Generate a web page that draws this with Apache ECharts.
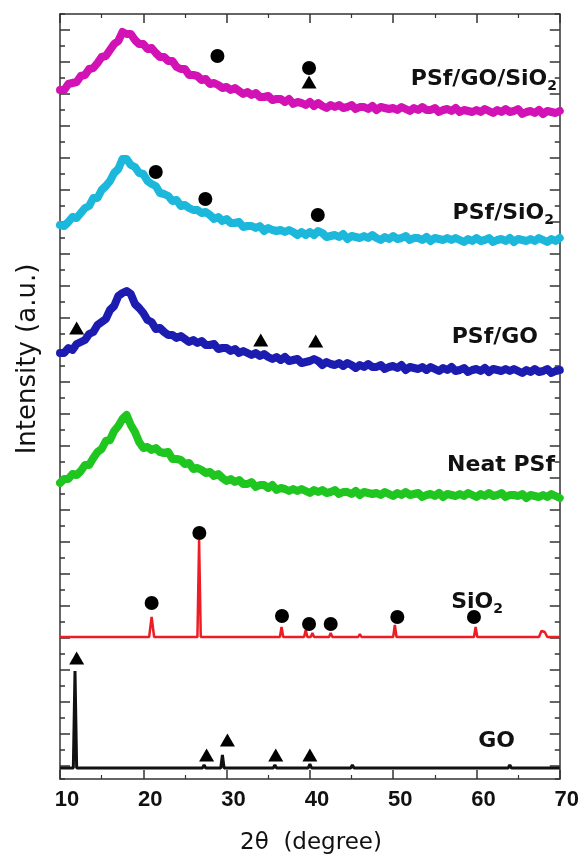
<!DOCTYPE html>
<html>
<head>
<meta charset="utf-8">
<script src="https://cdn.jsdelivr.net/npm/echarts@6.0.0/dist/echarts.min.js"></script>
<style>
  html, body { margin: 0; padding: 0; background: #fff; }
  #chart { width: 582px; height: 856px; }
</style>
</head>
<body>
<div id="chart"></div>
<script>
// 2theta grid shared by the four PSf membrane patterns
const angles = [
  10, 10.5, 11, 11.5, 12, 12.5, 13, 13.5, 14, 14.5,
  15, 15.5, 16, 16.5, 17, 17.5, 18, 18.5, 19, 19.5,
  20, 20.5, 21, 21.5, 22, 22.5, 23, 23.5, 24, 24.5,
  25, 25.5, 26, 26.5, 27, 27.5, 28, 28.5, 29, 29.5,
  30, 30.5, 31, 31.5, 32, 32.5, 33, 33.5, 34, 34.5,
  35, 35.5, 36, 36.5, 37, 37.5, 38, 38.5, 39, 39.5,
  40, 40.5, 41, 41.5, 42, 42.5, 43, 43.5, 44, 44.5,
  45, 45.5, 46, 46.5, 47, 47.5, 48, 48.5, 49, 49.5,
  50, 50.5, 51, 51.5, 52, 52.5, 53, 53.5, 54, 54.5,
  55, 55.5, 56, 56.5, 57, 57.5, 58, 58.5, 59, 59.5,
  60, 60.5, 61, 61.5, 62, 62.5, 63, 63.5, 64, 64.5,
  65, 65.5, 66, 66.5, 67, 67.5, 68, 68.5, 69, 69.5,
  70
];

// intensities above each pattern's own baseline (a.u.)
const psfGoSio2 = [
  22, 22, 28, 29, 30, 36, 37, 43, 44, 49,
  55, 56, 62, 68, 71, 80, 78, 78, 72, 68,
  68, 63, 64, 59, 55, 55, 51, 51, 45, 43,
  43, 37, 37, 36, 32, 33, 28, 29, 27, 24,
  25, 22, 24, 21, 18, 20, 17, 19, 15, 15,
  16, 12, 13, 13, 10, 13, 8, 10, 9, 7,
  10, 6, 9, 6, 4, 7, 5, 7, 4, 5,
  7, 3, 5, 5, 3, 6, 2, 5, 4, 3,
  4, 2, 5, 3, 1, 4, 2, 5, 2, 2,
  4, 0, 2, 3, 1, 4, 0, 2, 1, 0,
  2, 0, 3, 1, -1, 2, 0, 3, 0, 1,
  3, -2, 0, 1, -1, 2, -2, 1, 0, -1,
  1
];
const psfSio2 = [
  15, 14, 18, 23, 22, 27, 32, 34, 42, 42,
  50, 54, 59, 67, 71, 81, 81, 75, 73, 67,
  66, 59, 56, 54, 47, 46, 44, 39, 40, 34,
  35, 32, 30, 30, 27, 28, 25, 21, 23, 19,
  21, 17, 17, 18, 13, 14, 14, 12, 14, 9,
  12, 10, 9, 10, 8, 10, 8, 5, 8, 5,
  8, 5, 9, 7, 3, 4, 5, 3, 6, 1,
  4, 3, 2, 4, 2, 5, 2, 0, 3, 1,
  4, 1, 2, 4, 0, 2, 2, 0, 3, -1,
  2, 1, 0, 2, 0, 2, 0, -2, 1, -1,
  2, -1, 0, 2, -2, 0, 1, -1, 2, -2,
  1, 0, -1, 1, -1, 2, 0, -2, 1, -1,
  2
];
const psfGo = [
  18, 18, 23, 21, 27, 29, 31, 37, 39, 46,
  49, 52, 61, 65, 75, 78, 80, 77, 67, 63,
  58, 51, 49, 42, 43, 39, 36, 36, 33, 35,
  32, 29, 31, 28, 30, 26, 26, 27, 22, 23,
  23, 20, 22, 18, 20, 18, 16, 18, 15, 17,
  14, 12, 14, 11, 14, 10, 11, 12, 8, 9,
  10, 12, 10, 6, 9, 7, 6, 8, 5, 8,
  6, 3, 6, 4, 7, 4, 4, 6, 2, 4,
  5, 3, 6, 1, 4, 3, 2, 4, 1, 4,
  2, 0, 3, 1, 4, 0, 1, 3, -1, 1,
  2, 0, 3, -1, 2, 1, 0, 2, 0, 2,
  0, -2, 1, -1, 2, -1, 0, 2, -2, 0,
  1
];
const neatPsf = [
  13, 17, 17, 22, 21, 25, 31, 31, 38, 44,
  47, 55, 56, 65, 70, 77, 81, 71, 64, 54,
  48, 49, 46, 48, 44, 43, 44, 37, 37, 36,
  32, 33, 27, 28, 26, 23, 24, 20, 22, 18,
  15, 17, 14, 16, 12, 12, 14, 9, 11, 11,
  8, 11, 6, 8, 7, 5, 7, 5, 7, 5,
  3, 6, 4, 6, 3, 4, 6, 2, 4, 4,
  2, 5, 1, 4, 3, 2, 3, 1, 4, 2,
  0, 3, 1, 4, 1, 2, 3, -1, 1, 2,
  0, 3, -1, 2, 1, 0, 2, 0, 3, 1,
  -1, 2, 0, 3, 0, 1, 3, -1, 1, 1,
  0, 2, -2, 1, 0, -1, 1, -1, 2, 0,
  -2
];

// sharp reflections of the pure powders
const sio2Angles = [10, 20.7, 21.0, 21.3, 26.5, 26.7, 26.9, 36.4, 36.6, 36.8, 39.3, 39.5, 39.7, 40.1, 40.3, 40.5,
  42.3, 42.5, 42.7, 45.8, 46.0, 46.2, 50.0, 50.2, 50.4, 54.8, 55.0, 55.2, 59.7, 59.9, 60.1,
  63.9, 64.1, 64.3, 67.5, 67.8, 68.0, 68.2, 68.5, 70];
const sio2Counts = [0, 0, 20, 0, 0, 97, 0, 0, 10, 0, 0, 7, 0, 0, 4, 0,
  0, 4, 0, 0, 3, 0, 0, 12, 0, 0, 2, 0, 0, 10, 0,
  0, 2, 0, 0, 6, 4, 5, 0, 0];
const goAngles = [10, 11.6, 11.8, 12.0, 27.1, 27.3, 27.5, 29.3, 29.5, 29.7, 35.6, 35.8, 36.0,
  39.8, 40.0, 40.2, 44.9, 45.1, 45.3, 63.8, 64.0, 64.2, 68.6, 68.8, 69.0, 70];
const goCounts = [0, 0, 97, 0, 0, 3, 0, 0, 13, 0, 0, 3, 0,
  0, 4, 0, 0, 3, 0, 0, 3, 0, 0, 2, 0, 0];

// vertical offsets of the stacked patterns, top to bottom
const offsets = [667, 539, 408, 283, 142, 11];

// phase markers: [2theta, stacked height]
const sio2Marks = [[28.9, 723], [39.9, 711], [21.5, 607], [27.45, 580], [40.95, 564],
  [21.0, 176], [26.73, 246], [36.65, 163], [39.9, 155], [42.5, 155], [50.5, 162], [59.7, 162]];
const goMarks = [[39.9, 697], [12.0, 451], [34.1, 439], [40.7, 438],
  [12.0, 121], [27.6, 24], [30.1, 39], [35.9, 24], [40.0, 24]];

const TEXT = '#111';
const AXIS = '#333';
const LABEL_FONT = 'DejaVu Sans';

const chart = echarts.init(document.getElementById('chart'));

const broad = [
  { values: psfGoSio2, offset: offsets[0], color: '#d312b6' },
  { values: psfSio2, offset: offsets[1], color: '#1bb8dc' },
  { values: psfGo, offset: offsets[2], color: '#1c1cb0' },
  { values: neatPsf, offset: offsets[3], color: '#20c620' },
];

const series = broad.map((t, k) => ({
  type: 'line',
  data: angles.map((a, i) => [a, t.offset + t.values[i]]),
  showSymbol: false,
  lineStyle: { color: t.color, width: 8, join: 'round', cap: 'round' },
  z: 10 - k,
  silent: true,
}));

series.push({
  type: 'line',
  data: sio2Angles.map((a, i) => [a, offsets[4] + sio2Counts[i]]),
  showSymbol: false,
  lineStyle: { color: '#ee1c24', width: 2.5 },
  silent: true,
});
series.push({
  type: 'line',
  data: goAngles.map((a, i) => [a, offsets[5] + goCounts[i]]),
  showSymbol: false,
  lineStyle: { color: '#111', width: 3 },
  silent: true,
});
series.push({
  type: 'scatter',
  data: sio2Marks,
  symbol: 'circle',
  symbolSize: 14,
  itemStyle: { color: '#000', opacity: 1 },
  z: 20,
  silent: true,
});
series.push({
  type: 'scatter',
  data: goMarks,
  symbol: 'triangle',
  symbolSize: [15, 13],
  itemStyle: { color: '#000', opacity: 1 },
  z: 20,
  silent: true,
});

function seriesLabel(main, sub, right, cy) {
  const rich = {
    m: { fontFamily: LABEL_FONT, fontWeight: 'bold', fontSize: 22, lineHeight: 26, fill: TEXT, color: TEXT },
    s: { fontFamily: LABEL_FONT, fontWeight: 'bold', fontSize: 14, lineHeight: 14, padding: [14, 0, 0, 0], fill: TEXT, color: TEXT },
  };
  return {
    type: 'text',
    x: right,
    y: cy,
    z: 50,
    style: {
      text: sub ? '{m|' + main + '}{s|' + sub + '}' : '{m|' + main + '}',
      rich: rich,
      align: 'right', textAlign: 'right',
      verticalAlign: 'middle', textVerticalAlign: 'middle',
    },
  };
}

const valueTicksX = (pos, labels) => ({
  type: 'value', min: 10, max: 70, interval: 10, position: pos,
  axisLine: { onZero: false, lineStyle: { color: AXIS, width: 1.5 } },
  axisTick: { inside: true, length: 9, lineStyle: { color: AXIS, width: 1.5 } },
  minorTick: { show: true, splitNumber: 2, length: 4, lineStyle: { color: AXIS, width: 1.2 } },
  axisLabel: {
    show: labels, margin: 10, padding: [0, 0, 0, 14], color: TEXT,
    fontFamily: 'Liberation Sans Narrow, Liberation Sans, sans-serif', fontWeight: 'bold', fontSize: 22,
  },
  splitLine: { show: false },
});

const frameY = (pos) => ({
  type: 'value', min: 0, max: 765, interval: 32, inverse: true, position: pos,
  axisLine: { onZero: false, lineStyle: { color: AXIS, width: 1.5 } },
  axisTick: { inside: true, length: 5, lineStyle: { color: AXIS, width: 1.5 } },
  minorTick: { show: true, splitNumber: 2, length: 10, lineStyle: { color: AXIS, width: 1.5 } },
  axisLabel: { show: false },
  splitLine: { show: false },
});

const option = {
  animation: false,
  backgroundColor: '#fff',
  grid: { left: 60, right: 20, top: 14, bottom: 77, containLabel: false },
  xAxis: [valueTicksX('bottom', true), valueTicksX('top', false)],
  yAxis: [
    { type: 'value', min: 0, max: 765, show: false },
    frameY('left'),
    frameY('right'),
  ],
  series: series,
  graphic: [
    seriesLabel('PSf/GO/SiO', '2', 557, 79),
    seriesLabel('PSf/SiO', '2', 554, 213),
    seriesLabel('PSf/GO', '', 538, 337),
    seriesLabel('Neat PSf', '', 555, 465),
    seriesLabel('SiO', '2', 503, 602),
    seriesLabel('GO', '', 515, 741),
    {
      type: 'text', x: 28, y: 359, rotation: Math.PI / 2, z: 50,
      style: {
        text: 'Intensity (a.u.)', fill: TEXT,
        fontFamily: LABEL_FONT, fontSize: 26,
        align: 'center', textAlign: 'center', verticalAlign: 'middle', textVerticalAlign: 'middle',
      },
    },
    {
      type: 'text', x: 311, y: 843, z: 50,
      style: {
        text: '2θ  (degree)', fill: TEXT,
        fontFamily: LABEL_FONT, fontSize: 23,
        align: 'center', textAlign: 'center', verticalAlign: 'middle', textVerticalAlign: 'middle',
      },
    },
  ],
};

chart.setOption(option);
</script>
</body>
</html>
